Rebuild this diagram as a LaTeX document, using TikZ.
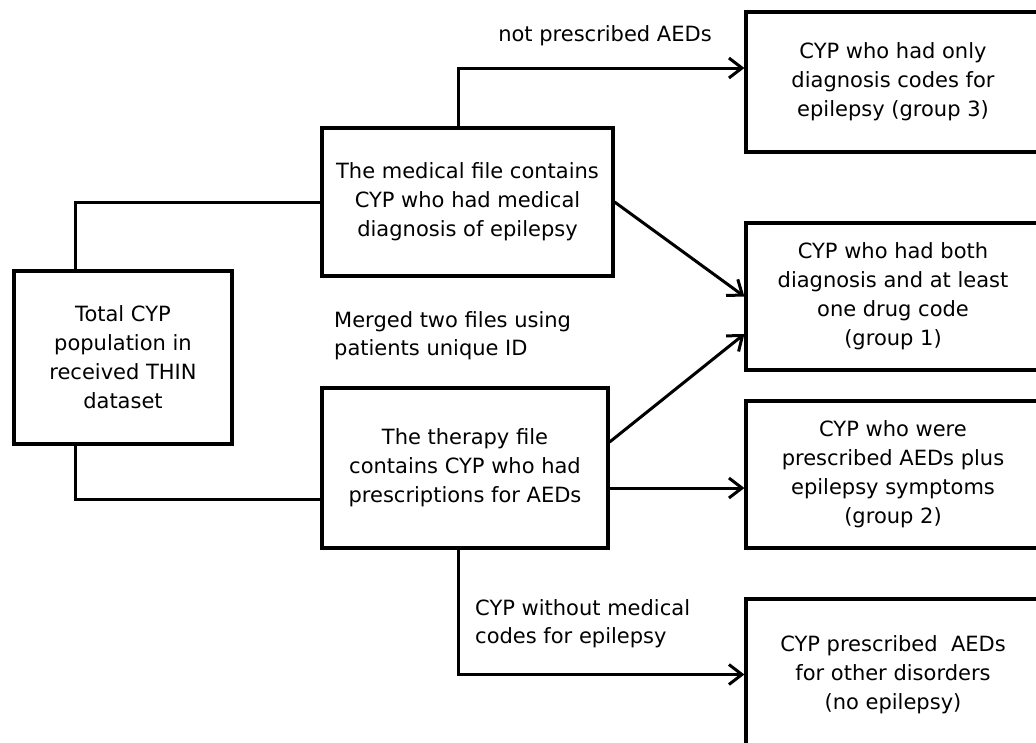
\documentclass[tikz,border=0pt]{standalone}
\usepackage{fontspec}
\setmainfont{DejaVu Sans}
\usetikzlibrary{arrows.meta}
\tikzset{
  box/.style={draw, line width=3.2pt, align=center, inner sep=0pt,
    font=\fontsize{21}{29}\selectfont},
  conn/.style={line width=3pt},
  arr/.style={conn, -{Straight Barb[length=13pt,width=20pt,line width=3pt]}},
  lbl/.style={inner sep=0pt, font=\fontsize{21}{28}\selectfont}
}
\begin{document}
\begin{tikzpicture}[x=1pt,y=-1pt]
\path[use as bounding box, clip] (0,0) rectangle (1036,742);

% boxes
\node[box, minimum width=218pt, minimum height=173pt] (total) at (123,357.5)
  {Total CYP\\population in\\received THIN\\dataset};
\node[box, minimum width=291pt, minimum height=148pt] (medical) at (467.5,202)
  {The medical file contains\\CYP who had medical\\diagnosis of epilepsy};
\node[box, minimum width=286pt, minimum height=160pt] (therapy) at (465,468)
  {The therapy file\\contains CYP who had\\prescriptions for AEDs};
\node[box, minimum width=294pt, minimum height=140pt] (g3) at (893,82)
  {CYP who had only\\diagnosis codes for\\epilepsy (group 3)};
\node[box, minimum width=294pt, minimum height=147pt] (g1) at (893,296.5)
  {CYP who had both\\diagnosis and at least\\one drug code\\(group 1)};
\node[box, minimum width=294pt, minimum height=147pt] (g2) at (893,474.5)
  {CYP who were\\prescribed AEDs plus\\epilepsy symptoms\\(group 2)};
\node[box, minimum width=294pt, minimum height=151pt] (g0) at (893,674.5)
  {CYP prescribed\ \ AEDs\\for other disorders\\(no epilepsy)};

% labels
\node[lbl] (lnot) at (605,36) {not prescribed AEDs};
\node[lbl, anchor=west, align=left] (lmerge) at (334,336)
  {Merged two files using\\patients unique ID};
\node[lbl, anchor=west, align=left] (lwithout) at (475,624)
  {CYP without medical\\codes for epilepsy};

% helper coordinates for the elbow connectors
\coordinate (tx) at (75,0);
\coordinate (mx) at (458,0);
\coordinate (ny) at (0,68);
\coordinate (ty) at (0,499);
\coordinate (d1) at (0,442);
\coordinate (d2) at (0,334);
\coordinate (py) at (0,488);

% connectors
\draw[conn] (total.north -| tx) |- (medical.west);
\draw[conn] (total.south -| tx) |- (therapy.west |- ty);
\draw[arr] (medical.north -| mx) |- (g3.west |- ny);
\draw[arr] (medical.east) -- (g1.west);
\draw[arr] (therapy.east |- d1) -- (g1.west |- d2);
\draw[arr] (therapy.east |- py) -- (g2.west |- py);
\draw[arr] (therapy.south -| mx) |- (g0.west);
\end{tikzpicture}
\end{document}
